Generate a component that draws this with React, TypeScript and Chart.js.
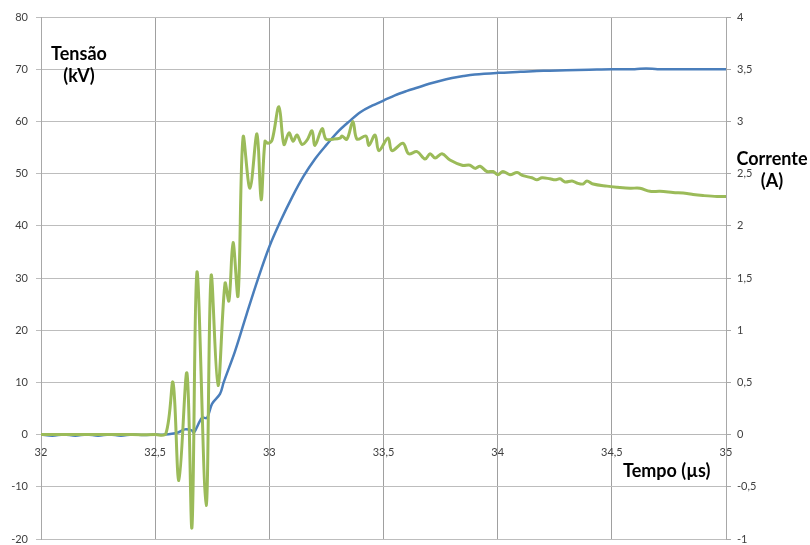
import React, { useEffect, useRef } from 'react';
import { Chart, registerables } from 'chart.js';

Chart.register(...registerables);

// Tensão (kV) – blue series
const voltageTime = [32, 32.05, 32.1, 32.15, 32.2, 32.25, 32.3, 32.35, 32.4, 32.45, 32.5, 32.543, 32.58, 32.6, 32.63, 32.66, 32.67, 32.705, 32.727, 32.749, 32.784, 32.8, 32.85, 32.9, 32.95, 33.0, 33.05, 33.1, 33.15, 33.2, 33.25, 33.3, 33.35, 33.4, 33.45, 33.5, 33.55, 33.6, 33.65, 33.7, 33.75, 33.8, 33.85, 33.9, 34.0, 34.1, 34.2, 34.3, 34.4, 34.5, 34.6, 34.65, 34.7, 34.8, 34.9, 35.0];
const voltageKV = [0, -0.2, 0, -0.2, 0, -0.2, 0, -0.2, 0, -0.1, 0, 0, 0.2, 0.4, 1.0, 0.8, 0.4, 3.2, 3.2, 5.9, 7.8, 10, 16, 23, 29.8, 36, 41, 45.5, 49.5, 52.8, 55.5, 58, 60, 61.8, 63, 64, 65, 65.8, 66.5, 67.2, 67.8, 68.3, 68.7, 69, 69.3, 69.5, 69.7, 69.8, 69.9, 70, 70, 70.15, 70, 70, 70, 70];

// Corrente (A) – green series
const currentTime = [32, 32.1, 32.2, 32.3, 32.4, 32.5, 32.547, 32.578, 32.604, 32.639, 32.661, 32.683, 32.723, 32.745, 32.775, 32.806, 32.823, 32.841, 32.863, 32.885, 32.915, 32.946, 32.964, 32.981, 32.994, 33.012, 33.042, 33.064, 33.086, 33.104, 33.121, 33.143, 33.165, 33.187, 33.2, 33.231, 33.248, 33.279, 33.31, 33.318, 33.34, 33.366, 33.384, 33.423, 33.436, 33.463, 33.48, 33.52, 33.537, 33.585, 33.61, 33.647, 33.682, 33.704, 33.726, 33.756, 33.791, 33.844, 33.879, 33.901, 33.923, 33.953, 33.98, 34.001, 34.023, 34.054, 34.085, 34.111, 34.15, 34.172, 34.194, 34.229, 34.251, 34.273, 34.295, 34.326, 34.347, 34.374, 34.391, 34.418, 34.479, 34.523, 34.58, 34.623, 34.667, 34.711, 34.768, 34.829, 34.856, 34.899, 34.961, 35.0];
const currentA = [0, 0, 0, 0, 0, 0, 0.01, 0.5, -0.44, 0.59, -0.89, 1.56, -0.68, 1.52, 0.47, 1.45, 1.28, 1.84, 1.33, 2.85, 2.36, 2.88, 2.25, 2.81, 2.79, 2.82, 3.14, 2.78, 2.89, 2.81, 2.87, 2.78, 2.82, 2.91, 2.77, 2.93, 2.83, 2.83, 2.84, 2.86, 2.83, 3.0, 2.83, 2.86, 2.77, 2.87, 2.72, 2.84, 2.72, 2.79, 2.69, 2.71, 2.64, 2.69, 2.65, 2.69, 2.63, 2.58, 2.58, 2.55, 2.57, 2.52, 2.52, 2.49, 2.52, 2.49, 2.51, 2.48, 2.46, 2.44, 2.46, 2.45, 2.44, 2.45, 2.42, 2.43, 2.41, 2.40, 2.43, 2.40, 2.38, 2.37, 2.36, 2.36, 2.33, 2.33, 2.32, 2.31, 2.30, 2.29, 2.28, 2.28];

const xTicks = { min: 32, max: 35, step: 0.5 };
const leftTicks = { min: -20, max: 80, step: 10 };
const rightTicks = { min: -1, max: 4, step: 0.5 };

const leftTitle = ['Tensão', '(kV)'];
const rightTitle = ['Corrente', '(A)'];
const bottomTitle = 'Tempo (µs)';

const comma = (v: number | string) => String(v).replace('.', ',');

export default function App() {
  const ref = useRef<HTMLCanvasElement | null>(null);

  useEffect(() => {
    document.body.style.margin = '0';
    const canvas = ref.current;
    if (!canvas) return;
    const tickFont = { family: 'Lato, "Liberation Sans", sans-serif', size: 11 };
    const fitY = (w: number) => (s: any) => {
      s.width = w;
      s.paddingTop = 0;
      s.paddingBottom = 0;
    };
    const chart = new Chart(canvas, {
      type: 'line',
      data: {
        datasets: [
          {
            label: 'Corrente',
            data: currentTime.map((t, i) => ({ x: t, y: currentA[i] })),
            yAxisID: 'y1',
            borderColor: '#9bbb59',
            borderWidth: 3,
            pointRadius: 0,
            tension: 0.35,
            fill: false,
          },
          {
            label: 'Tensão',
            data: voltageTime.map((t, i) => ({ x: t, y: voltageKV[i] })),
            yAxisID: 'y',
            borderColor: '#4a7ebb',
            borderWidth: 2.5,
            pointRadius: 0,
            tension: 0.35,
            fill: false,
          },
        ],
      },
      options: {
        animation: false,
        responsive: false,
        layout: { padding: { top: 17, bottom: 6, left: 0, right: 0 } },
        plugins: { legend: { display: false }, tooltip: { enabled: false } },
        scales: {
          x: {
            type: 'linear',
            position: { y: 0 },
            min: xTicks.min,
            max: xTicks.max,
            ticks: {
              stepSize: xTicks.step,
              callback: (v: any) => comma(v),
              font: tickFont,
              color: '#404040',
              padding: 11,
              maxRotation: 0,
            },
            grid: { color: '#a0a0a0', lineWidth: 1, drawTicks: false },
            border: { display: true, color: '#b8b8b8' },
            afterFit: (s: any) => {
              s.paddingTop = 0;
              s.paddingBottom = 0;
            },
          },
          y: {
            type: 'linear',
            position: 'left',
            min: leftTicks.min,
            max: leftTicks.max,
            ticks: { stepSize: leftTicks.step, font: tickFont, color: '#404040', padding: 8 },
            grid: { color: '#bdbdbd', lineWidth: 1, tickLength: 5 },
            border: { display: true, color: '#a8a8a8' },
            afterFit: fitY(41),
          },
          y1: {
            type: 'linear',
            position: 'right',
            min: rightTicks.min,
            max: rightTicks.max,
            ticks: {
              stepSize: rightTicks.step,
              callback: (v: any) => comma(v),
              font: tickFont,
              color: '#404040',
              padding: 6,
            },
            grid: { drawOnChartArea: false, color: '#a8a8a8', tickLength: 5 },
            border: { display: true, color: '#a8a8a8' },
            afterFit: fitY(84),
          },
        },
      },
    } as any);
    return () => chart.destroy();
  }, []);

  const titleStyle: React.CSSProperties = {
    position: 'absolute',
    fontFamily: 'Lato, "Open Sans", sans-serif',
    fontWeight: 700,
    fontSize: 18,
    lineHeight: '22px',
    color: '#000',
    textAlign: 'center',
    whiteSpace: 'nowrap',
  };

  return (
    <div style={{ position: 'relative', width: 810, height: 545 }}>
      <canvas ref={ref} width={810} height={545} style={{ display: 'block' }} />
      <div style={{ ...titleStyle, left: 39, top: 42, width: 80 }}>
        {leftTitle[0]}<br />{leftTitle[1]}
      </div>
      <div style={{ ...titleStyle, left: 731, top: 147, width: 82 }}>
        {rightTitle[0]}<br />{rightTitle[1]}
      </div>
      <div style={{ ...titleStyle, left: 623, top: 459 }}>{bottomTitle}</div>
    </div>
  );
}
